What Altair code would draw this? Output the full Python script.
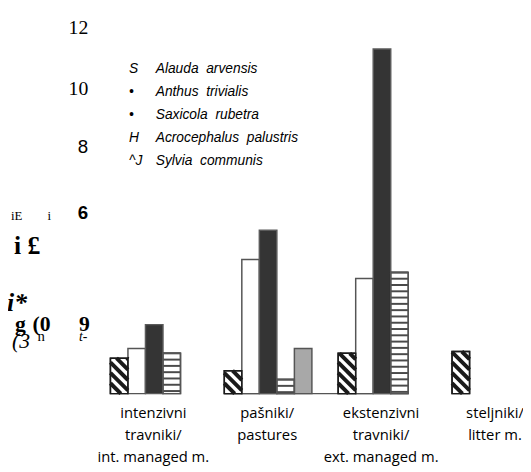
import altair as alt
import pandas as pd

# ---------------- data ----------------
categories = ["intenzivni\ntravniki/\nint. managed m.",
              "pašniki/\npastures",
              "ekstenzivni\ntravniki/\next. managed m.",
              "steljniki/\nlitter m."]
species = ["Alauda arvensis", "Anthus trivialis", "Saxicola rubetra",
           "Acrocephalus palustris", "Sylvia communis"]
legend_marks = ["S", "•", "•", "H", "^J"]
alauda = [1.16, 0.75, 1.32, 1.38]
anthus = [1.48, 4.39, 3.77, None]
saxicola = [2.26, 5.35, 11.29, None]
acrocephalus = [1.32, 0.46, 3.97, None]
sylvia = [None, 1.48, None, None]
y_ticks = [6, 8, 10, 12]
axis_fragments = ["iE", "i", "i £", "i*", "g", "(0", "9", "(3", "n", "t-"]

series = [alauda, anthus, saxicola, acrocephalus, sylvia]
rows = []
for si, vals in enumerate(series):
    for gi, v in enumerate(vals):
        if v is not None:
            rows.append({"gi": gi, "si": si, "species": species[si], "v": v})
df = pd.DataFrame(rows)

# ---------------- layout / style constants ----------------
W, H = 427, 372
PL, PT = 88, 16
GROUP_STEP = 6.5
xscale = alt.Scale(domain=[-0.9, 23.1], nice=False, zero=False)
yscale = alt.Scale(domain=[0, 12], nice=False, zero=True)
fills = ["white", "white", "#343434", "white", "#a8a8a8"]
strokes = ["#1a1a1a", "#555555", "#5a5a5a", "#555555", "#555555"]

yaxis = alt.Axis(
    values=y_ticks, title=None, domain=False, ticks=False, grid=False,
    labelColor="black", labelPadding=7,
    labelFont={"condition": {"test": "datum.value >= 10", "value": "Liberation Serif"},
               "value": "Liberation Sans"},
    labelFontWeight={"condition": {"test": "datum.value == 6", "value": "bold"},
                     "value": "normal"},
    labelFontSize={"condition": {"test": "datum.value >= 10", "value": 20},
                   "value": 19},
    labelOffset={"condition": [{"test": "datum.value == 8", "value": -3},
                               {"test": "datum.value == 6", "value": 2}],
                 "value": 0},
)

base = alt.Chart(df).transform_calculate(
    xl=f"datum.gi * {GROUP_STEP} + datum.si",
    xr=f"datum.gi * {GROUP_STEP} + datum.si + 1",
)

# baseline joining the pastures and extensive-meadow groups
baseline = base.transform_filter("datum.gi == 1 || datum.gi == 2").transform_aggregate(
    x0="min(xl)", x1="max(xr)"
).mark_rule(strokeWidth=1.5, color="#555555").encode(
    x=alt.X("x0:Q", scale=xscale, axis=None), x2="x1:Q",
    y=alt.YDatum(0, scale=yscale),
)

bars = base.mark_bar(strokeWidth=1.5).encode(
    x=alt.X("xl:Q", scale=xscale, axis=None),
    x2="xr:Q",
    y=alt.Y("v:Q", scale=yscale, axis=yaxis),
    y2=alt.Y2Datum(0),
    fill=alt.Fill("species:N", scale=alt.Scale(domain=species, range=fills), legend=None),
    stroke=alt.Stroke("species:N", scale=alt.Scale(domain=species, range=strokes), legend=None),
)

P, S = 0.34, 0.574  # hatch period and slope (style)
hatch = base.transform_filter("datum.si == 0").transform_calculate(
    ks=f"sequence({P}, datum.v + {S}, {P})"
).transform_flatten(["ks"]).transform_calculate(
    ta=f"max(0, (datum.ks - datum.v) / {S})",
    tb=f"min(1, datum.ks / {S})",
).transform_filter("datum.ta < datum.tb - 0.03").transform_calculate(
    xa="datum.xl + datum.ta",
    ya=f"datum.ks - {S} * datum.ta",
    xb="datum.xl + datum.tb",
    yb=f"datum.ks - {S} * datum.tb",
).mark_rule(strokeWidth=4, color="#1a1a1a", strokeCap="butt").encode(
    x=alt.X("xa:Q", scale=xscale, axis=None), x2="xb:Q",
    y=alt.Y("ya:Q", scale=yscale, axis=yaxis), y2="yb:Q",
)

stripes = base.transform_filter("datum.si == 3").transform_calculate(
    ks="sequence(0, datum.v, 0.206)"
).transform_flatten(["ks"]).transform_calculate(
    lv="datum.v - datum.ks"
).transform_filter("datum.lv > 0.03").mark_rule(strokeWidth=2, color="#4a4a4a").encode(
    x=alt.X("xl:Q", scale=xscale, axis=None), x2="xr:Q",
    y=alt.Y("lv:Q", scale=yscale, axis=yaxis),
)

outlines = base.transform_filter("datum.si == 0 || datum.si == 3").mark_bar(
    fillOpacity=0, strokeWidth=1.5
).encode(
    x=alt.X("xl:Q", scale=xscale, axis=None), x2="xr:Q",
    y=alt.Y("v:Q", scale=yscale, axis=yaxis),
    y2=alt.Y2Datum(0),
    stroke=alt.Stroke("species:N", scale=alt.Scale(domain=species, range=strokes), legend=None),
)

cat_df = pd.DataFrame({"gi": list(range(len(categories))), "label": categories})
cat_labels = alt.Chart(cat_df).transform_calculate(
    xc=f"datum.gi * {GROUP_STEP} + 2.45"
).mark_text(
    font="Open Sans", fontSize=15, lineBreak="\n", lineHeight=22,
    baseline="top", align="center", dy=13, color="black"
).encode(
    x=alt.X("xc:Q", scale=xscale, axis=None),
    y=alt.YDatum(0, scale=yscale),
    text="label:N",
)

# legend text as in the picture (wide word gap kept with a no-break space)
leg_df = pd.DataFrame({
    "marks": ["\n".join(legend_marks)],
    "names": ["\n".join(s.replace(" ", "\u00a0 ") for s in species)],
})
leg_style = dict(font="Liberation Sans", fontStyle="italic", fontSize=14, lineBreak="\n",
                 lineHeight=23.5, align="left", baseline="top", color="black")
leg_marks = alt.Chart(leg_df).mark_text(**leg_style).encode(
    text="marks:N", x=alt.value(131 - 96), y=alt.value(59 - 24))
leg_names = alt.Chart(leg_df).mark_text(**leg_style).encode(
    text="names:N", x=alt.value(158 - 96), y=alt.value(59 - 24))


def frag(i, px, py, size, weight="normal", style="normal"):
    d = pd.DataFrame({"t": [axis_fragments[i]]})
    return alt.Chart(d).mark_text(
        align="left", baseline="middle", font="Liberation Serif",
        fontSize=size, fontWeight=weight, fontStyle=style, color="black"
    ).encode(text="t:N", x=alt.value(px - 96), y=alt.value(py - 24))


frags = [
    frag(0, 11, 216, 13),
    frag(1, 48, 216, 13),
    frag(2, 14, 246, 26, "bold"),
    frag(3, 7, 304, 26, "bold", "italic"),
    frag(4, 15, 325, 22, "bold"),
    frag(5, 33, 325, 22, "bold"),
    frag(6, 80, 325, 22, "bold"),
    frag(7, 12, 343, 22, "normal", "italic"),
    frag(8, 38, 338, 15),
    frag(9, 80, 339, 14, "normal", "italic"),
]

chart = alt.layer(baseline, bars, hatch, stripes, outlines, cat_labels, leg_marks, leg_names, *frags).properties(
    width=W, height=H,
    autosize=alt.AutoSizeParams(type="none"),
    padding={"left": PL, "top": PT, "right": 8, "bottom": 76},
).configure_view(stroke=None)

chart.save("out.html", embed_options={"renderer": "svg", "actions": False})
